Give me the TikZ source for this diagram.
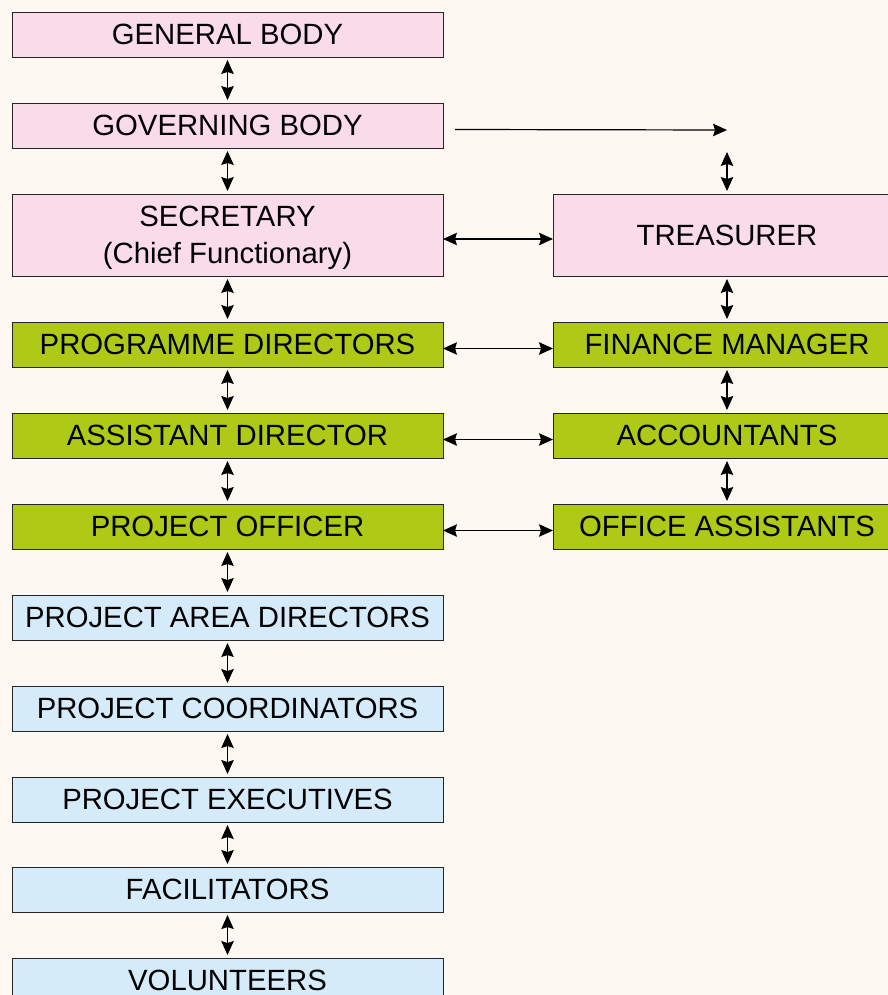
\documentclass[tikz,border=0pt]{standalone}
\usepackage{fontspec}
\setmainfont{Liberation Sans}
\usetikzlibrary{arrows.meta}
\definecolor{paper}{HTML}{FDF8F1}
\definecolor{boardpink}{HTML}{FADBEA}
\definecolor{staffgreen}{HTML}{AECA17}
\definecolor{fieldblue}{HTML}{D5EBF9}
\begin{document}
\begin{tikzpicture}[x=1pt, y=-1pt,
    box/.style={draw=black!85, line width=0.9pt, outer sep=0pt, inner sep=2pt,
      minimum height=45pt, align=center, font=\fontsize{29.3}{36.5}\selectfont},
    lbox/.style={box, minimum width=431pt},
    rbox/.style={box, minimum width=348pt},
    link/.style={{Stealth[length=14pt,width=12.5pt,inset=2pt]}-{Stealth[length=14pt,width=12.5pt,inset=2pt]}, line width=1.2pt},
    vlink/.style={link, shorten <=3pt, shorten >=3pt}]
    \fill[paper] (0,0) rectangle (888,995);
    \useasboundingbox (0,0) rectangle (888,995);
    \clip (0,0) rectangle (888,995);

    \node[lbox, fill=boardpink] (gen) at (227.5, 34.5) {GENERAL BODY};
    \node[lbox, fill=boardpink] (gov) at (227.5, 125.5) {GOVERNING BODY};
    \node[lbox, fill=boardpink, minimum height=82pt, text depth=-3pt] (sec) at (227.5, 235) {SECRETARY\\(Chief Functionary)};
    \node[lbox, fill=staffgreen] (prog) at (227.5, 344.5) {PROGRAMME DIRECTORS};
    \node[lbox, fill=staffgreen] (asst) at (227.5, 435.5) {ASSISTANT DIRECTOR};
    \node[lbox, fill=staffgreen] (offi) at (227.5, 526.5) {PROJECT OFFICER};
    \node[lbox, fill=fieldblue] (area) at (227.5, 617.5) {PROJECT AREA DIRECTORS};
    \node[lbox, fill=fieldblue] (coord) at (227.5, 708.5) {PROJECT COORDINATORS};
    \node[lbox, fill=fieldblue] (exec) at (227.5, 799.5) {PROJECT EXECUTIVES};
    \node[lbox, fill=fieldblue] (facil) at (227.5, 889.5) {FACILITATORS};
    \node[lbox, fill=fieldblue] (vol) at (227.5, 980.5) {VOLUNTEERS};

    \node[rbox, fill=boardpink, minimum height=82pt] (treas) at (727, 235) {TREASURER};
    \node[rbox, fill=staffgreen] (fin) at (727, 344.5) {FINANCE MANAGER};
    \node[rbox, fill=staffgreen] (acct) at (727, 435.5) {ACCOUNTANTS};
    \node[rbox, fill=staffgreen] (offa) at (727, 526.5) {OFFICE ASSISTANTS};

    \coordinate (govend) at (727, 130);
    \coordinate (treastop) at (727, 149);

    \foreach \a/\b in {gen/gov, gov/sec, sec/prog, prog/asst, asst/offi, offi/area,
        area/coord, coord/exec, exec/facil, facil/vol, treas/fin, fin/acct, acct/offa}
      \draw[vlink] (\a) -- (\b);
    \draw[vlink] (treastop) -- (treas);

    \foreach \a/\b in {sec/treas, prog/fin, asst/acct, offi/offa}
      \draw[link] ([yshift=-4pt]\a.east) -- ([yshift=-4pt]\b.west);

    \draw[-{Stealth[length=14pt,width=12.5pt,inset=2pt]}, line width=1.2pt]
      ([xshift=12pt, yshift=-4pt]gov.east) -- (govend);
\end{tikzpicture}
\end{document}
